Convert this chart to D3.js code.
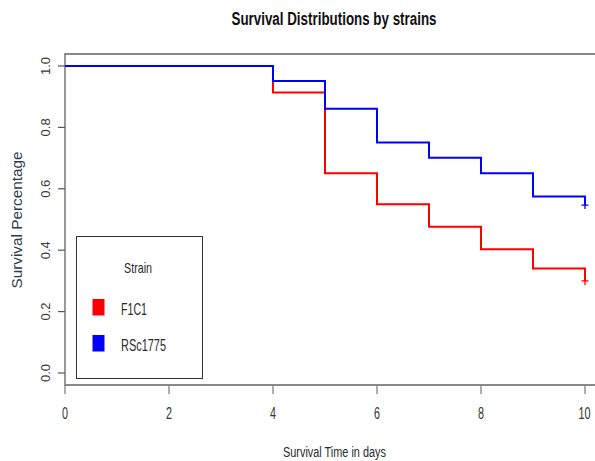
<!DOCTYPE html>
<html><head><meta charset="utf-8">
<script src="https://cdn.jsdelivr.net/npm/d3@7"></script>
<style>html,body{margin:0;padding:0;background:#fff;}svg{display:block;font-family:"Liberation Sans",Arial,sans-serif;}</style>
</head><body>
<svg id="c" width="595" height="461"></svg>
<script>
const times = [0, 4, 5, 6, 7, 8, 9, 10];
const f1c1 = [1.0, 0.914, 0.651, 0.550, 0.476, 0.403, 0.340, 0.300];
const rsc1775 = [1.0, 0.951, 0.861, 0.751, 0.701, 0.651, 0.575, 0.547];
const censorTime = 10;
const seriesNames = ["F1C1", "RSc1775"];
const seriesColors = ["#ff0000", "#0000ff"];
const xTicks = [0, 2, 4, 6, 8, 10];
const yTicks = [0, 0.2, 0.4, 0.6, 0.8, 1.0];
const yTickLabels = ["0.0", "0.2", "0.4", "0.6", "0.8", "1.0"];

const svg = d3.select("#c");
const x = d3.scaleLinear().domain([0, 10]).range([65, 585]);
const y = d3.scaleLinear().domain([0, 1]).range([373, 66]);

function txt(g, s, px, py, fs, len, anchor, opts = {}) {
  const t = g.append("text").attr("x", px).attr("y", py)
    .attr("font-size", fs).attr("text-anchor", anchor)
    .attr("fill", opts.fill || "#333").text(s);
  if (len) t.attr("textLength", len).attr("lengthAdjust", "spacingAndGlyphs");
  if (opts.bold) t.attr("font-weight", "bold");
  if (opts.rot) t.attr("transform", `rotate(-90,${px},${py})`);
  return t;
}

// title
txt(svg, "Survival Distributions by strains", 334, 25, 18, 205, "middle", {bold: true, fill: "#111"});

// box lines
svg.append("line").attr("x1", 65).attr("x2", 595).attr("y1", 54).attr("y2", 54).attr("stroke", "#8a8a8a").attr("stroke-width", 2);
svg.append("line").attr("x1", 65).attr("x2", 595).attr("y1", 385).attr("y2", 385).attr("stroke", "#8a8a8a").attr("stroke-width", 2);
svg.append("line").attr("x1", 65).attr("x2", 65).attr("y1", 53).attr("y2", 386).attr("stroke", "#777").attr("stroke-width", 1.5);

// x axis ticks
xTicks.forEach(v => {
  svg.append("line").attr("x1", x(v)).attr("x2", x(v)).attr("y1", 385).attr("y2", 394).attr("stroke", "#777").attr("stroke-width", 1.2);
  const s = String(v);
  txt(svg, s, x(v) - (s.length > 1 ? 0.5 : 0), 419, 17, 6 * s.length, "middle", {fill: "#333"});
});
// y axis ticks
yTicks.forEach((v, i) => {
  svg.append("line").attr("x1", 58).attr("x2", 65).attr("y1", y(v)).attr("y2", y(v)).attr("stroke", "#555").attr("stroke-width", 1.2);
  txt(svg, yTickLabels[i], 50, y(v), 13, 18, "middle", {fill: "#3a3a3a", rot: true});
});

// axis titles
txt(svg, "Survival Time in days", 334.5, 457, 14, 103, "middle", {fill: "#2a2a2a"});
txt(svg, "Survival Percentage", 22, 220, 15, 137, "middle", {fill: "#2e3a48", rot: true});

// survival curves (blue drawn last, on top)
const line = d3.line().x(d => x(d[0])).y(d => y(d[1])).curve(d3.curveStepAfter);
const series = [f1c1, rsc1775];
series.forEach((vals, i) => {
  const pts = times.map((t, j) => [t, vals[j]]);
  svg.append("path").attr("d", line(pts)).attr("fill", "none")
    .attr("stroke", seriesColors[i]).attr("stroke-width", 2);
  // censor mark
  const cx = x(censorTime), cy = y(vals[vals.length - 1]);
  svg.append("path").attr("d", `M${cx - 3.5},${cy}H${cx + 3.5}M${cx},${cy - 4}V${cy + 4}`)
    .attr("stroke", seriesColors[i]).attr("stroke-width", 1.3).attr("fill", "none");
});

// legend
const lg = svg.append("g");
lg.append("rect").attr("x", 76.5).attr("y", 236.5).attr("width", 126).attr("height", 142)
  .attr("fill", "#fff").attr("stroke", "#333").attr("stroke-width", 1);
txt(lg, "Strain", 138, 272.5, 15, 28, "middle", {fill: "#2a2a2a"});
const legLens = [26, 45];
seriesNames.forEach((n, i) => {
  const yy = 299 + i * 36;
  lg.append("rect").attr("x", 92.5).attr("y", yy).attr("width", 12).attr("height", 16.5).attr("fill", seriesColors[i]);
  txt(lg, n, 121, yy + 16, 17, legLens[i], "start", {fill: "#2a2a2a"});
});
</script>
</body></html>
